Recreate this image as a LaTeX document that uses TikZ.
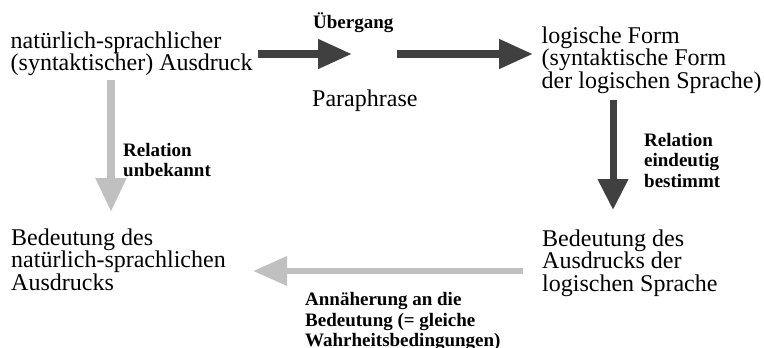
\documentclass[tikz,border=0pt]{standalone}
\usepackage{fontspec}
\setmainfont{Liberation Serif}
\usetikzlibrary{arrows.meta}
\definecolor{darkg}{HTML}{404040}
\definecolor{lightg}{HTML}{C0C0C0}
\tikzset{
  maintext/.style={anchor=north west, inner sep=0pt, align=left,
    font=\fontsize{24bp}{22.5bp}\selectfont},
  labtext/.style={anchor=north west, inner sep=0pt, align=left,
    font=\fontsize{19bp}{20.5bp}\selectfont\bfseries},
  darr/.style={draw=darkg, line width=7.5bp, -{Triangle[length=34bp,width=28bp]}},
  garr/.style={draw=lightg, line width=7.5bp, -{Triangle[length=34bp,width=29bp]}},
}
\begin{document}
\begin{tikzpicture}[x=1bp, y=-1bp]
\fill[white] (0,0) rectangle (764,347);
\useasboundingbox (0,0) rectangle (764,347);

\node[maintext] (tl) at (10.5,31.6) {natürlich-sprachlicher\\(syntaktischer) Ausdruck};
\node[maintext] (tr) at (541.5,26.6) {logische Form\\(syntaktische Form\\der logischen Sprache)};
\node[maintext] (bl) at (11,228.6) {Bedeutung des\\natürlich-sprachlichen\\Ausdrucks};
\node[maintext] (br) at (542,229.6) {Bedeutung des\\Ausdrucks der\\logischen Sprache};

\node[labtext, anchor=base west] (ueb) at (313,28) {Übergang};
\node[maintext, anchor=base west] (para) at (312,106) {Paraphrase};
\node[labtext] (relu) at (123,143) {Relation\\unbekannt};
\node[labtext] (rele) at (644,133) {Relation\\eindeutig\\bestimmt};
\node[labtext] (ann) at (305,292.5) {Annäherung an die\\Bedeutung (= gleiche\\Wahrheitsbedingungen)};

\coordinate (a1s) at (258,54);
\coordinate (a1e) at (352,54);
\coordinate (a2s) at (397,54);
\coordinate (a2e) at (533,54);
\coordinate (vds) at (613,100);
\coordinate (vde) at (613,210);
\coordinate (vgs) at (111,80);
\coordinate (vge) at (111,212);
\coordinate (hgs) at (523,271);
\coordinate (hge) at (253,271);

\draw[darr] (a1s) -- (a1e);
\draw[darr] (a2s) -- (a2e);
\draw[darr, line width=7bp, -{Triangle[length=31bp,width=29bp]}] (vds) -- (vde);
\draw[garr, line width=8bp] (vgs) -- (vge);
\draw[garr, line width=6.5bp, -{Triangle[length=34bp,width=28bp]}] (hgs) -- (hge);
\end{tikzpicture}
\end{document}
